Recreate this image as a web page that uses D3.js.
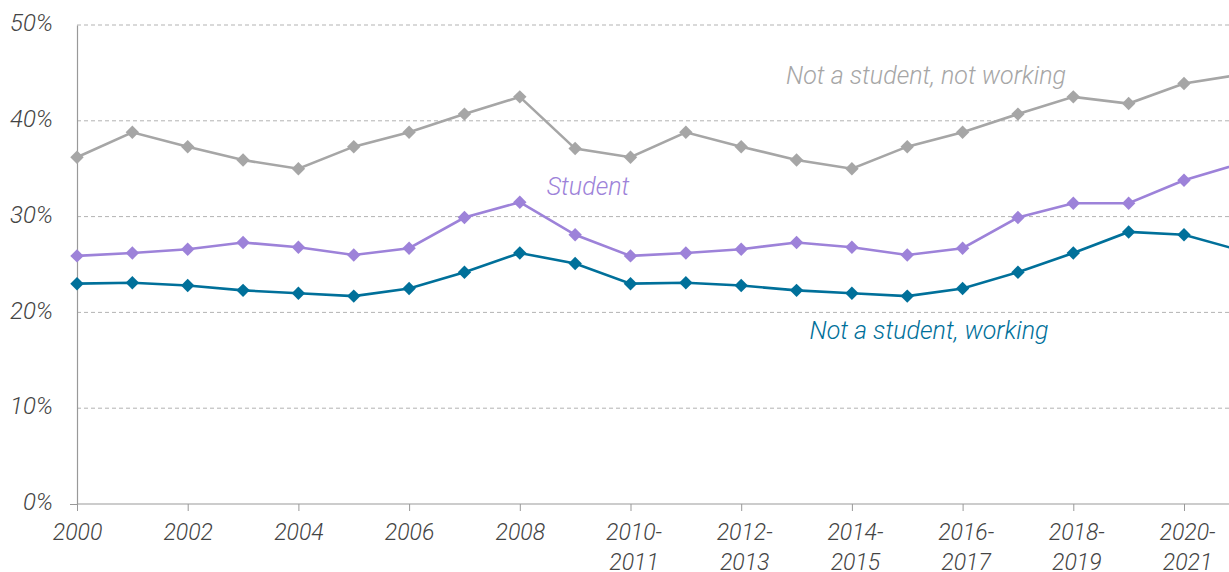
<!DOCTYPE html>
<html>
<head>
<meta charset="utf-8">
<script src="https://cdn.jsdelivr.net/npm/d3@7"></script>
<style>
  html, body { margin: 0; padding: 0; background: #fff; }
  svg { display: block; }
  text { font-family: Roboto, "Open Sans", sans-serif; font-style: italic; }
</style>
</head>
<body>
<svg id="chart" width="1229" height="572"></svg>
<script>
const categories = ["2000","2001","2002","2003","2004","2005","2006","2007","2008","2009",
  "2010-2011","2011-2012","2012-2013","2013-2014","2014-2015","2015-2016","2016-2017",
  "2017-2018","2018-2019","2019-2020","2020-2021","2021-2022"];
const tickLabels = ["2000","2002","2004","2006","2008","2010-2011","2012-2013","2014-2015",
  "2016-2017","2018-2019","2020-2021"];
const notStudentNotWorking = [36.2,38.8,37.3,35.9,35.0,37.3,38.8,40.7,42.5,37.1,
  36.2,38.8,37.3,35.9,35.0,37.3,38.8,40.7,42.5,41.8,43.9,44.8];
const student = [25.9,26.2,26.6,27.3,26.8,26.0,26.7,29.9,31.5,28.1,
  25.9,26.2,26.6,27.3,26.8,26.0,26.7,29.9,31.4,31.4,33.8,35.5];
const notStudentWorking = [23.0,23.1,22.8,22.3,22.0,21.7,22.5,24.2,26.2,25.1,
  23.0,23.1,22.8,22.3,22.0,21.7,22.5,24.2,26.2,28.4,28.1,26.5];
const yTicks = [0,10,20,30,40,50];
const seriesNames = ["Not a student, not working","Student","Not a student, working"];

const svg = d3.select("#chart");
const W = 1229;
const x = d3.scalePoint().domain(categories).range([77, 77 + 21 * 55.35]);
const y = d3.scaleLinear().domain([0, 50]).range([504, 25]);

// gridlines
svg.append("g").selectAll("line").data(yTicks.filter(d => d > 0)).join("line")
  .attr("x1", 77).attr("x2", W)
  .attr("y1", d => y(d)).attr("y2", d => y(d))
  .attr("stroke", "#b3b3b3").attr("stroke-width", 1).attr("stroke-dasharray", "4,3");

// y axis
const yAxis = svg.append("g").attr("transform", "translate(77,0)")
  .call(d3.axisLeft(y).tickValues(yTicks).tickFormat(d => d + "%").tickSize(7).tickSizeOuter(0));
yAxis.select(".domain").attr("stroke", "#999").attr("stroke-width", 1.2);
yAxis.selectAll(".tick line").attr("stroke", "#999");
yAxis.selectAll(".tick line").filter(d => d > 0).remove();
yAxis.selectAll(".tick text").attr("x", -24).attr("dy", "0.32em")
  .style("font-size", "24px").attr("fill", "#444").style("font-family", "Roboto, sans-serif").style("font-weight", 300)
  .attr("transform", "translate(0,-2)");

// x axis
const xAxis = svg.append("g").attr("transform", "translate(0,504)")
  .call(d3.axisBottom(x).tickValues(tickLabels).tickSize(7).tickSizeOuter(0).tickFormat(""));
xAxis.select(".domain").attr("stroke", "#999").attr("stroke-width", 1.2).attr("d", `M77,0H${W}`);
xAxis.selectAll(".tick line").attr("stroke", "#999");
xAxis.selectAll(".tick").each(function(d) {
  const parts = d.includes("-") ? [d.split("-")[0] + "-", d.split("-")[1]] : [d];
  const t = d3.select(this).append("text").attr("fill", "#444")
    .style("font-size", "23px").style("font-weight", 300).attr("text-anchor", "middle");
  parts.forEach((p, i) => t.append("tspan").attr("x", d.includes("-") ? 3 : 0).attr("y", 36 + i * 30).text(p));
});

const series = [
  {name: seriesNames[0], values: notStudentNotWorking, color: "#a6a6a6", lx: 926, ly: 84},
  {name: seriesNames[1], values: student, color: "#9d82d9", lx: 588, ly: 195},
  {name: seriesNames[2], values: notStudentWorking, color: "#00709a", lx: 929, ly: 339}
];
const line = d3.line().x((d, i) => x(categories[i])).y(d => y(d));
series.forEach(s => {
  const g = svg.append("g");
  g.append("path").datum(s.values).attr("d", line)
    .attr("fill", "none").attr("stroke", s.color).attr("stroke-width", 2.6);
  g.selectAll("path.m").data(s.values).join("path").attr("class", "m")
    .attr("d", d3.symbol(d3.symbolDiamond2, 115))
    .attr("transform", (d, i) => `translate(${x(categories[i])},${y(d)})`)
    .attr("fill", s.color);
  svg.append("text").attr("x", s.lx).attr("y", s.ly).attr("text-anchor", "middle")
    .attr("fill", s.color).style("font-size", "25px").style("font-weight", 300).text(s.name);
});
</script>
</body>
</html>
